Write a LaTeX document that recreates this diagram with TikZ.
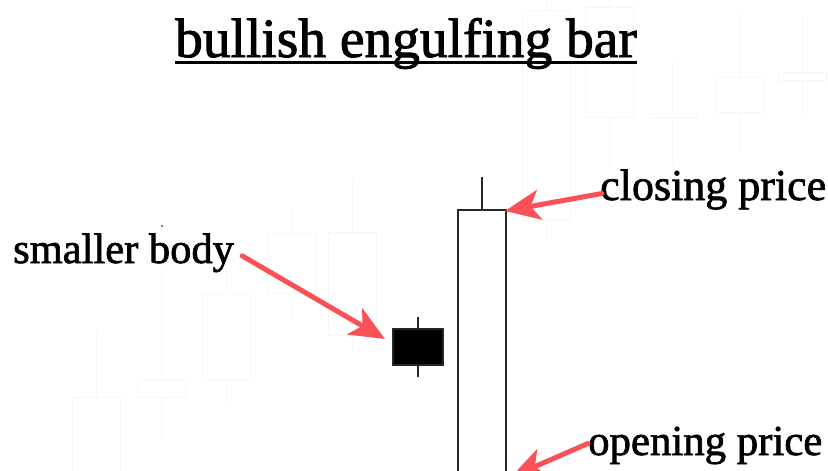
\documentclass[tikz,border=0pt]{standalone}
\usepackage{fontspec}
\setmainfont{Liberation Serif}[BoldFont=Liberation Serif, BoldFeatures={FakeBold=1.6}]
\usetikzlibrary{
    arrows.meta,
    positioning
}
\definecolor{arrowred}{RGB}{250,80,86}
\definecolor{ghostgray}{RGB}{247,247,247}

\begin{document}
\begin{tikzpicture}[x=1pt, y=-1pt,
    pointer/.style={arrowred, line width=5pt, line cap=round,
        -{Stealth[length=35pt, width=30pt, inset=9pt]}},
    ghost/.style={draw=ghostgray, line width=0.9pt},
    candle/.style={draw=black!85, line width=1.8pt},
    note/.style={inner sep=0pt, anchor=base west}]
    \useasboundingbox (0,0) rectangle (828,471);

    %% Faint chart in the background
    \foreach \xl/\bt/\bb/\wt/\wb in {72/397/480/330/397, 137/380/397/267/440,
            202/294/379/267/405, 267/233/293/210/318, 328/232/335/178/353,
            522/10/220/0/240, 585/7/117/0/167, 648/113/117/60/167,
            715/77/112/12/150, 778/72/80/17/115} {
        \draw[ghost] (\xl+24,\wt) -- (\xl+24,\wb);
        \filldraw[ghost, fill=white] (\xl,\bt) rectangle (\xl+48,\bb);
    }

    %% Title
    \node[inner sep=0pt, anchor=base, font=\bfseries\fontsize{55.4}{60}\selectfont]
          (title) at (406,57) {bullish engulfing bar};
    \draw[line width=3pt] ([yshift=-5pt]title.base west) -- ([yshift=-5pt]title.base east);

    %% Candles
        \draw[candle] (418,317) -- (418,377);
        \filldraw[candle, fill=black] (393,329) rectangle (443,365);
        \draw[candle] (482,177) -- (482,210);
        \draw[candle, fill=white] (458,490) rectangle (506,210);
        \coordinate (bodytip) at (385,339);
        \coordinate (closetip) at (505,211);
        \coordinate (opentip) at (511,477);

    %% Labels
        \node[note, font=\bfseries\fontsize{42.5}{48}\selectfont] (smaller) at (13,263) {smaller body};
        \node[note, font=\bfseries\fontsize{44}{48}\selectfont] (closing) at (600,200) {closing price};
        \node[note, font=\bfseries\fontsize{42.8}{48}\selectfont] (opening) at (588,455) {opening price};
        \fill (162,226) circle (0.9pt);

    %% Arrows
        \draw[pointer] ([shift={(8,3)}]smaller.east) -- (bodytip);
        \draw[pointer] ([shift={(2,4)}]closing.west) -- (closetip);
        \draw[pointer] ([shift={(0,-2)}]opening.west) -- (opentip);
\end{tikzpicture}
\end{document}
